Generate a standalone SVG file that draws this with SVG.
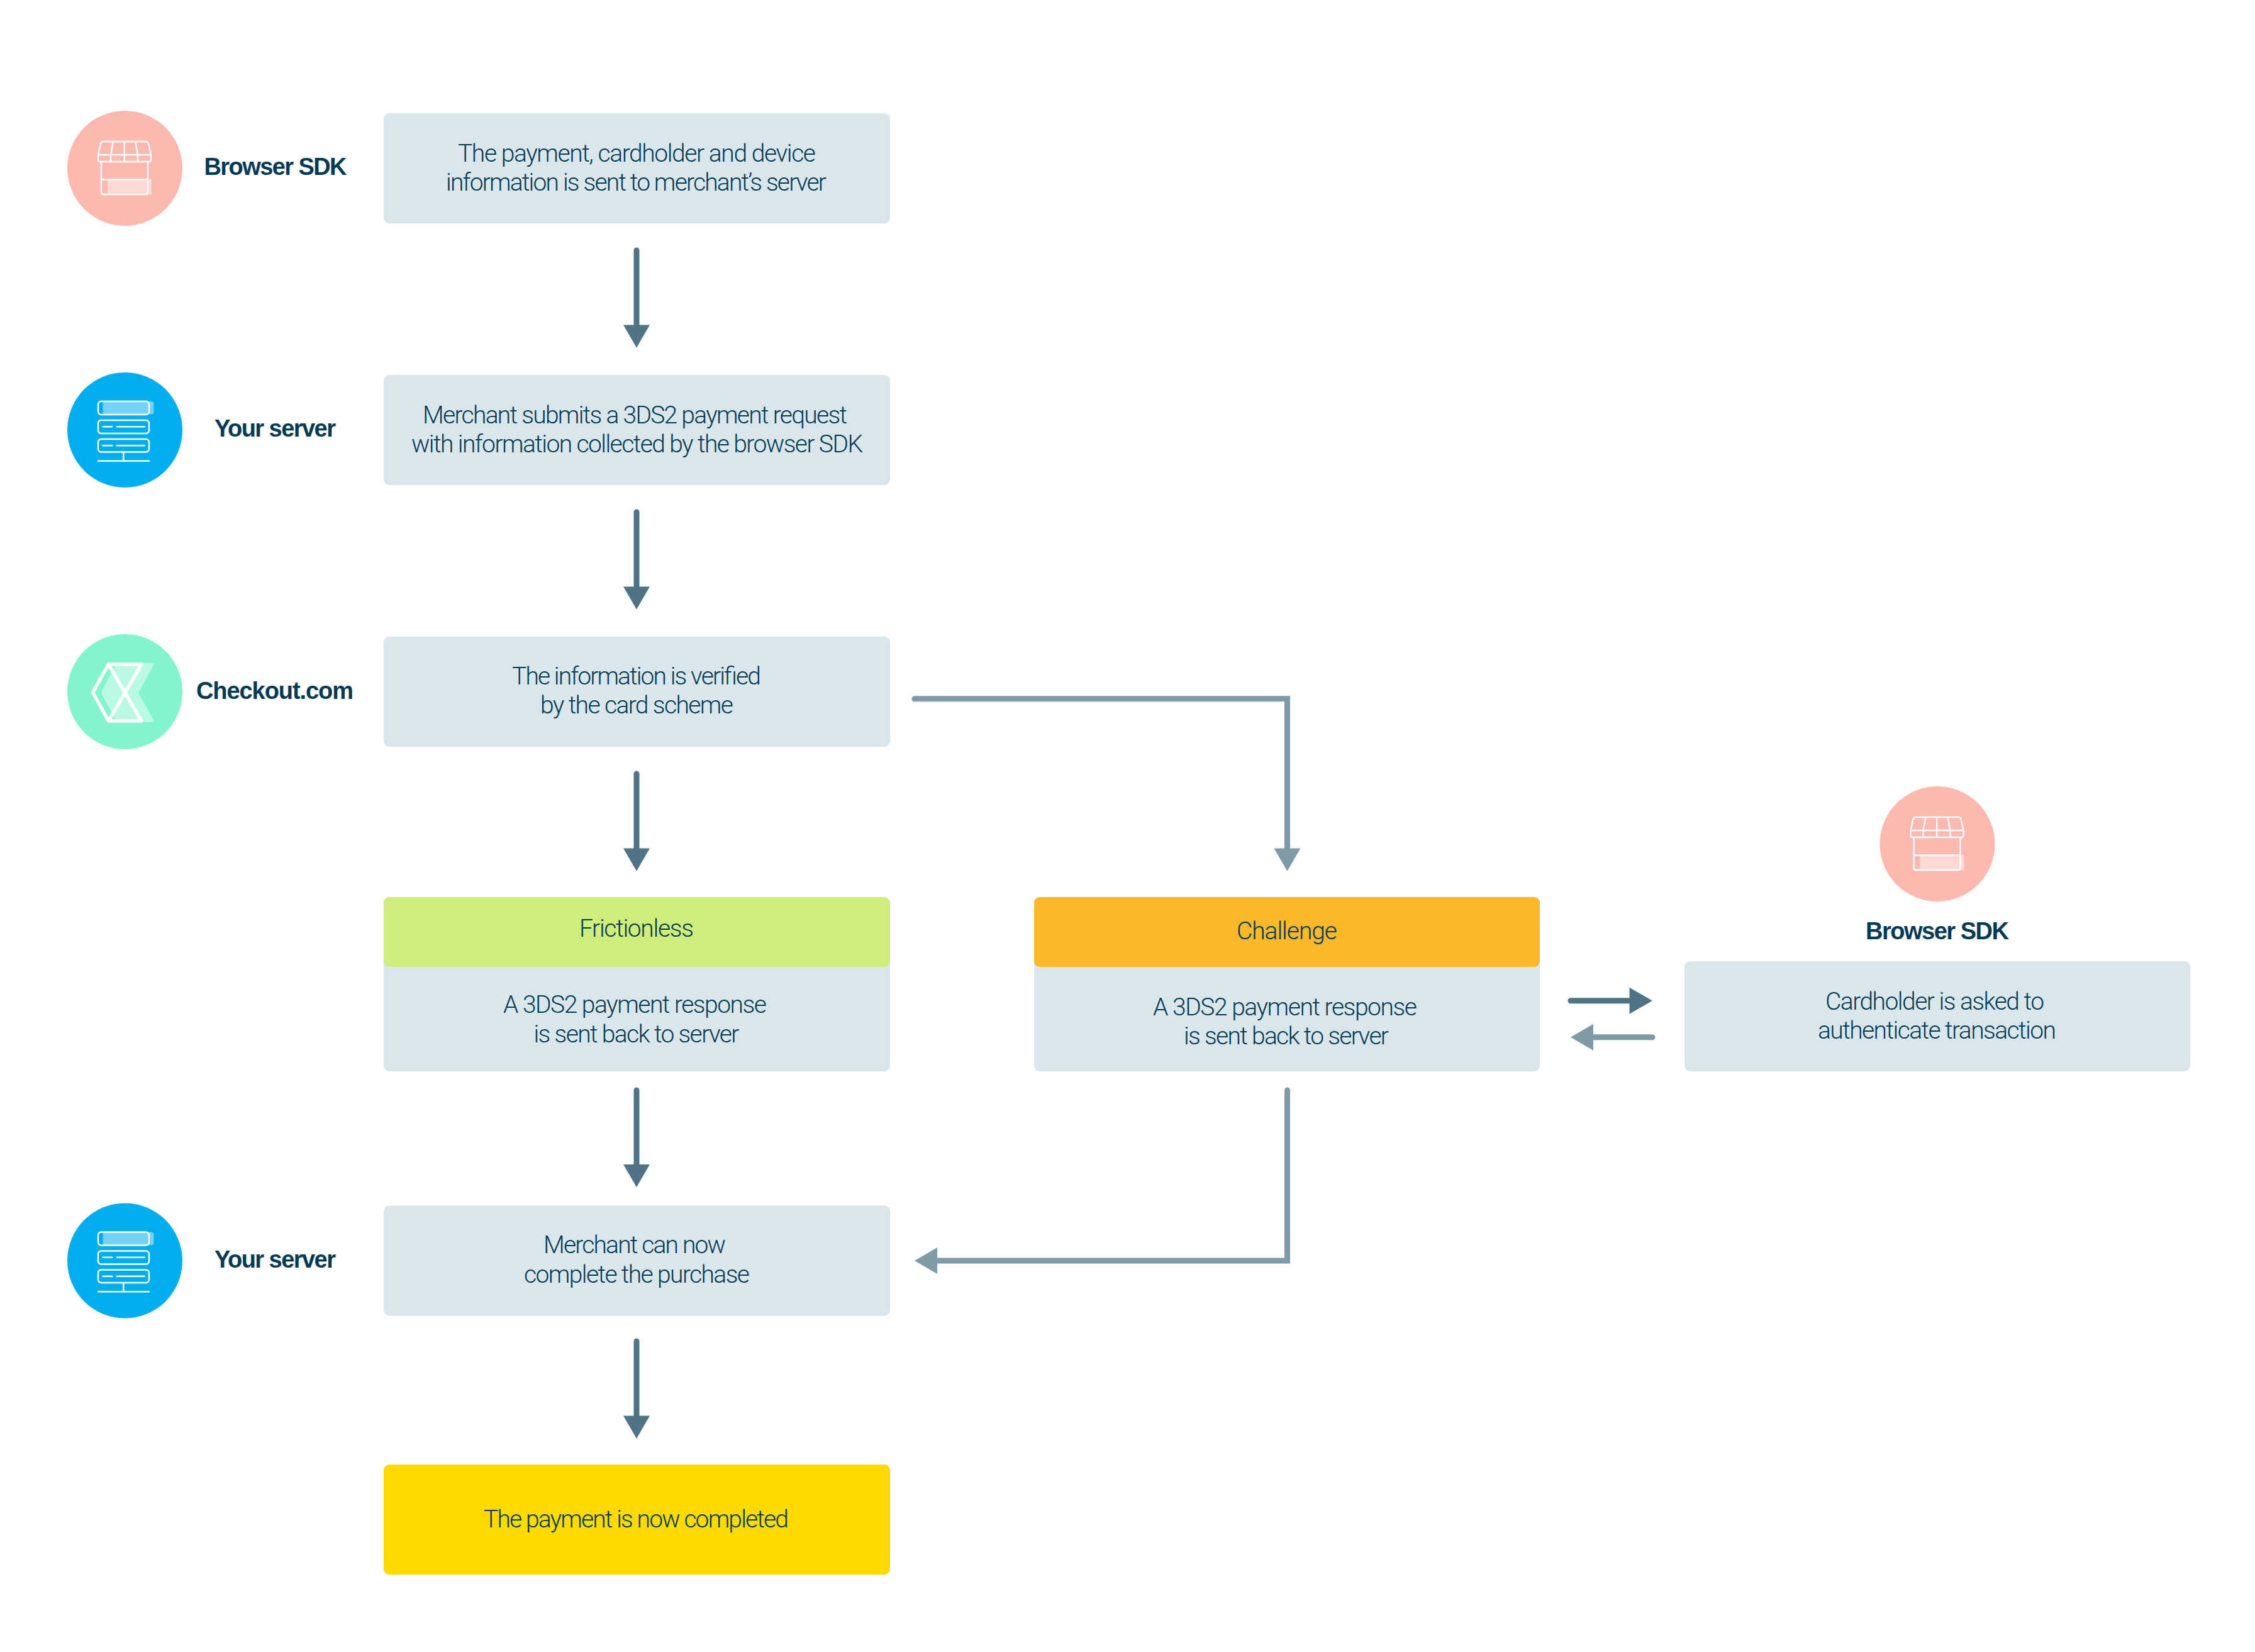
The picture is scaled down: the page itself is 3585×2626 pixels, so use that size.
<svg xmlns="http://www.w3.org/2000/svg" xmlns:xlink="http://www.w3.org/1999/xlink" width="3585" height="2626" viewBox="0 0 3585 2626">
<style>
text{font-family:"Liberation Sans",Arial,sans-serif;fill:#023a53}
.t{font-family:Roboto,"Liberation Sans",sans-serif;font-size:39px;font-weight:300}
.b{font-size:38px;font-weight:700}
.box{fill:#d9e7ec}
.dk{stroke:#4e7486;fill:none;stroke-width:9;stroke-linecap:round}
.lt{stroke:#809ba8;fill:none;stroke-width:9;stroke-linecap:round;stroke-linejoin:miter}
.hd{fill:#4e7486}
.hl{fill:#809ba8}
.i{fill:none;stroke:#fff;stroke-width:2.4;stroke-linejoin:round;stroke-linecap:round}
.f{fill:#fff;opacity:.45}
</style>
<defs>
<g id="store">
<rect class="f" x="171" y="285" width="70" height="24.5"/>
<path class="i" d="M161 257H235V306Q235 309 232 309H164Q161 309 161 306ZM161 285.500H235M164 225H232Q235 225 236 228L240 246H156L160 228Q161 225 164 225ZM156 246V254Q156 257 159 257H237Q240 257 240 254V246M180 225L176 246V257M197.700 225V257M215 225L219 246V257"/>
</g>
<g id="server">
<rect class="f" x="163.500" y="638" width="81" height="20.500" rx="4"/>
<g class="i">
<rect x="156" y="638" width="81" height="21" rx="5"/>
<rect x="156" y="668" width="81" height="21" rx="5"/>
<rect x="156" y="698" width="81" height="20.500" rx="5"/>
<path d="M163.500 678.300H178.300M185.700 678.300H229.700M163.500 708.300H178.300M185.700 708.300H229.700M196.300 718.500V732.700M156 732.700H237"/>
</g>
</g>
</defs>
<rect width="3585" height="2626" fill="#fff"/>
<g id="connectors">
<path class="dk" d="M1012 398V520"/><path class="hd" d="M991 516.500H1033L1012 552.700Z"/>
<path class="dk" d="M1012 814V936"/><path class="hd" d="M991 932.500H1033L1012 968.700Z"/>
<path class="dk" d="M1012 1230V1352"/><path class="hd" d="M991 1348.500H1033L1012 1384.700Z"/>
<path class="dk" d="M1012 1733V1855"/><path class="hd" d="M991 1851H1033L1012 1887Z"/>
<path class="dk" d="M1012 2132V2254"/><path class="hd" d="M991 2250.500H1033L1012 2286.700Z"/>
<path class="lt" d="M1454 1110.700H2046.500V1352"/><path class="hl" d="M2025.500 1348.500H2067.500L2046.500 1384.700Z"/>
<path class="lt" d="M2046.500 1733V2004H1485"/><path class="hl" d="M1490 1983V2025L1454 2004Z"/>
<path class="dk" d="M2497 1590.700H2594"/><path class="hd" d="M2590.500 1569.700V1611.700L2627 1590.700Z"/>
<path class="lt" d="M2627 1648.700H2530"/><path class="hl" d="M2533 1627.700V1669.700L2497 1648.700Z"/>
</g>
<g id="actor-browser-1">
<circle cx="198.500" cy="267.500" r="91.500" fill="#fdb9b0"/>
<use xlink:href="#store" href="#store"/>
<text class="b" x="324.500" y="278" textLength="227">Browser SDK</text>
</g>
<g id="actor-server-1">
<circle cx="198.500" cy="683.500" r="91.500" fill="#00aeef"/>
<use xlink:href="#server" href="#server"/>
<text class="b" x="341" y="694" textLength="193">Your server</text>
</g>
<g id="actor-checkout">
<circle cx="198.500" cy="1099.500" r="91.500" fill="#82f5cf"/>
<path d="M186 1054H243Q246 1054 244.500 1057L220 1101L244.500 1145Q246 1148 243 1148H186L162 1104Q161 1101 162 1098Z" fill="#fff" opacity=".45"/>
<path d="M172.500 1056H225L172.500 1146H225L172.500 1056L147.500 1100.700L172.500 1146" fill="none" stroke="#fff" stroke-width="5.500" stroke-linejoin="round"/>
<text class="b" x="312" y="1110.700" textLength="250">Checkout.com</text>
</g>
<g id="actor-server-2">
<circle cx="198.500" cy="2004" r="91.500" fill="#00aeef"/>
<use xlink:href="#server" href="#server" y="1320.500"/>
<text class="b" x="341" y="2014.500" textLength="193">Your server</text>
</g>
<g id="actor-browser-2">
<circle cx="3080" cy="1341.500" r="91.500" fill="#fdb9b0"/>
<use xlink:href="#store" href="#store" x="2881.500" y="1074"/>
<text class="b" x="2966" y="1493" textLength="228">Browser SDK</text>
</g>
<g id="step-info-sent">
<rect class="box" x="610" y="180" width="805" height="175" rx="9"/>
<text class="t" x="728" y="256.700" textLength="569">The payment, cardholder and device</text>
<text class="t" x="709" y="302.700" textLength="605">information is sent to merchant’s server</text>
</g>
<g id="step-request">
<rect class="box" x="610" y="596" width="805" height="175" rx="9"/>
<text class="t" x="672" y="672.700" textLength="675">Merchant submits a 3DS2 payment request</text>
<text class="t" x="654" y="718.700" textLength="718">with information collected by the browser SDK</text>
</g>
<g id="step-verified">
<rect class="box" x="610" y="1012" width="805" height="175" rx="9"/>
<text class="t" x="814" y="1088" textLength="396">The information is verified</text>
<text class="t" x="859" y="1134" textLength="307">by the card scheme</text>
</g>
<g id="step-frictionless">
<rect class="box" x="610" y="1426" width="805" height="277" rx="9"/>
<rect x="610" y="1426" width="805" height="111" rx="9" fill="#cfed7b"/>
<text class="t" x="921" y="1489" textLength="182">Frictionless</text>
<text class="t" x="800" y="1610" textLength="419">A 3DS2 payment response</text>
<text class="t" x="848.500" y="1656.700" textLength="327">is sent back to server</text>
</g>
<g id="step-challenge">
<rect class="box" x="1644" y="1426" width="804" height="277" rx="9"/>
<rect x="1644" y="1426" width="804" height="111" rx="9" fill="#fbb82b"/>
<text class="t" x="1966" y="1493" textLength="160">Challenge</text>
<text class="t" x="1833" y="1614" textLength="420">A 3DS2 payment response</text>
<text class="t" x="1882" y="1660" textLength="326">is sent back to server</text>
</g>
<g id="step-cardholder">
<rect class="box" x="2678" y="1528" width="804" height="175" rx="9"/>
<text class="t" x="2902" y="1604.500" textLength="348">Cardholder is asked to</text>
<text class="t" x="2890" y="1651" textLength="379">authenticate transaction</text>
</g>
<g id="step-complete">
<rect class="box" x="610" y="1916.500" width="805" height="175" rx="9"/>
<text class="t" x="864" y="1992" textLength="290">Merchant can now</text>
<text class="t" x="833" y="2038.500" textLength="359">complete the purchase</text>
</g>
<g id="step-done">
<rect x="610" y="2328" width="805" height="175" rx="9" fill="#ffda00"/>
<text class="t" x="769" y="2427.700" textLength="485">The payment is now completed</text>
</g>
</svg>
